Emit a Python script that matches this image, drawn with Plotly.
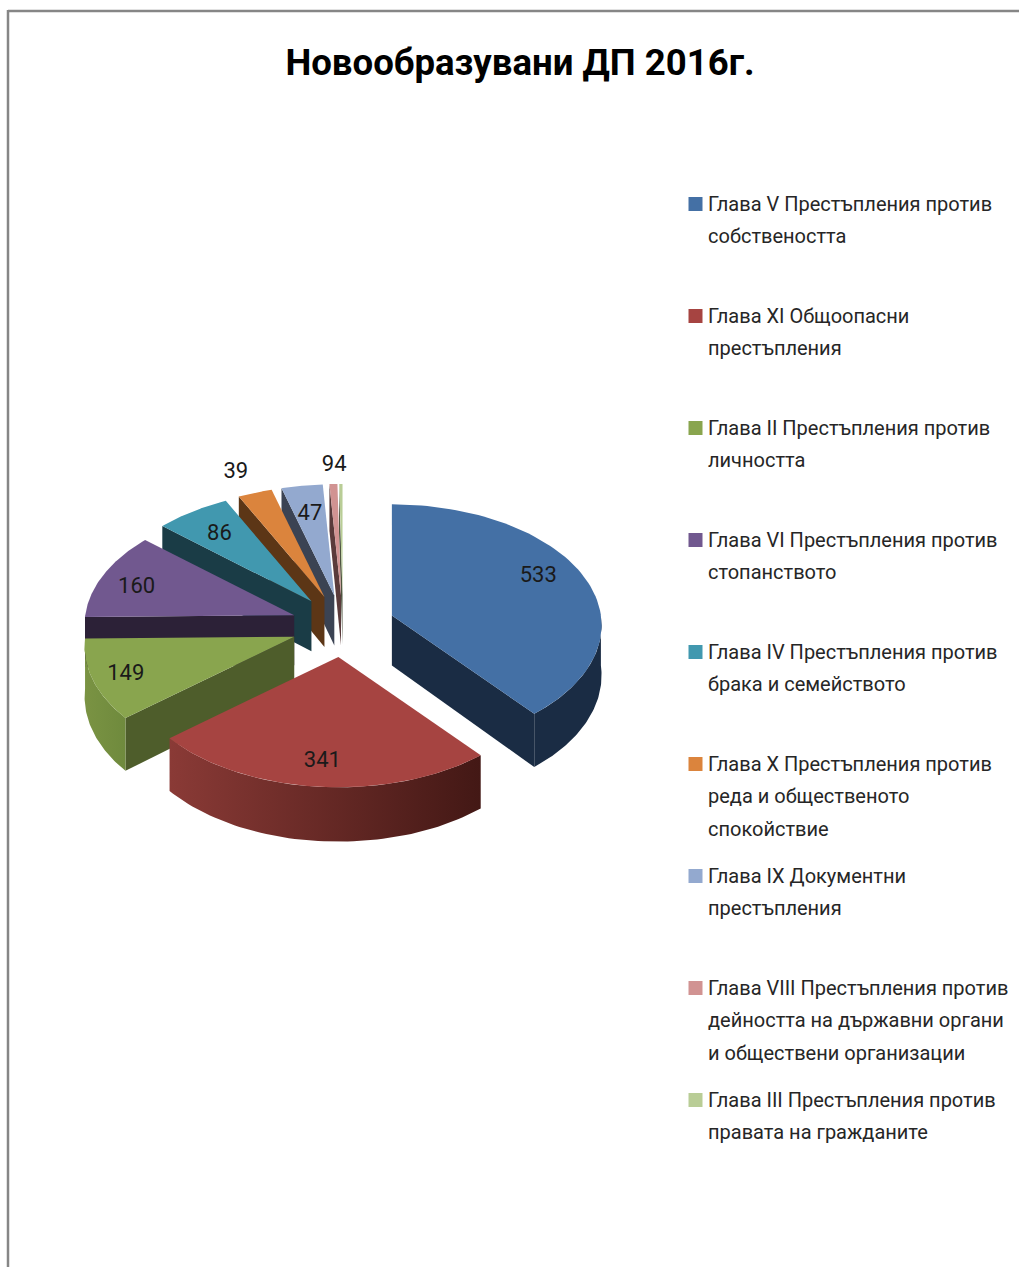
import math
import plotly.graph_objects as go

# ---- data ----
categories = [
    "Глава V Престъпления против<br>собствеността",
    "Глава XI Общоопасни<br>престъпления",
    "Глава II Престъпления против<br>личността",
    "Глава VI Престъпления против<br>стопанството",
    "Глава IV Престъпления против<br>брака и семейството",
    "Глава X Престъпления против<br>реда и общественото<br>спокойствие",
    "Глава IX Документни<br>престъпления",
    "Глава VIII Престъпления против<br>дейността на държавни органи<br>и обществени организации",
    "Глава III Престъпления против<br>правата на гражданите",
]
values = [533, 341, 149, 160, 86, 39, 47, 9, 4]
title = "Новообразувани ДП 2016г."

# ---- styles ----
top_colors = ["#4470A5", "#A64441", "#89A54E", "#71588F", "#4198AF", "#DB843D", "#93A9CF", "#D19392", "#B9CD96"]
wall_colors = ["#1A2C44", "#431815", "#4E5D2B", "#2C2137", "#1A3C46", "#5C3616", "#3B4353", "#5A3B3B", "#4E5540"]
arc_left = ["#1A2C44", "#8A3A36", "#7A9343", "#2C2137", "#1A3C46", "#5C3616", "#3B4353", "#5A3B3B", "#4E5540"]
label_frac = [0.80, 0.80, 0.84, 0.81, 0.76, 1.24, 0.74, 1.20, 1.20]
label_shift = [-6, 0, 0, -2, 0, -1, 0, -1, 0]
LABEL_DY = 2
FONT = "Roboto"

# ---- projection of the tilted, exploded pie onto page pixels ----
CX, CY, EX, EY = 343, 626, 52, 31
RX, RY, P, DEPTH = 209, 120, 0.08, 50


def pt(tip, frac, ang, drop=0):
    a = math.radians(ang)
    X, Y = frac * math.sin(a), frac * math.cos(a)
    s = 1 / (1 + P * Y)
    return tip[0] + RX * X * s, tip[1] - RY * Y * s + drop * s


def poly(fig, pts, color, name=None, grad=None):
    xs = [p[0] for p in pts] + [pts[0][0]]
    ys = [p[1] for p in pts] + [pts[0][1]]
    kw = dict(fillgradient=dict(type="horizontal", colorscale=[[0, grad[0]], [1, grad[1]]])) if grad else dict(fillcolor=color)
    fig.add_trace(go.Scatter(x=xs, y=ys, mode="lines", fill="toself", line=dict(width=0, color=color),
                             hoverinfo="text" if name else "skip", text=name, showlegend=False, **kw))


fig = go.Figure()
total = sum(values)
spans, cum = [], 0
for v in values:
    spans.append((cum / total * 360, (cum + v) / total * 360))
    cum += v
tips = []
for a0, a1 in spans:
    m = math.radians((a0 + a1) / 2)
    tips.append((CX + EX * math.sin(m), CY - EY * math.cos(m)))

order = [8, 7, 6, 5, 4, 3, 0, 2, 1]
for i in order:
    a0, a1 = spans[i]
    tip = tips[i]
    # radial wall facing the viewer
    if a0 >= 180:
        poly(fig, [pt(tip, 0, 0), pt(tip, 1, a0), pt(tip, 1, a0, DEPTH), pt(tip, 0, 0, DEPTH)], wall_colors[i])
    if a1 <= 180:
        poly(fig, [pt(tip, 0, 0), pt(tip, 1, a1), pt(tip, 1, a1, DEPTH), pt(tip, 0, 0, DEPTH)], wall_colors[i])
    # outer wall
    lo, hi = max(a0, 90), min(a1, 270)
    if hi > lo:
        n = 60
        angs = [lo + (hi - lo) * k / n for k in range(n + 1)]
        arc = [pt(tip, 1, a) for a in angs] + [pt(tip, 1, a, DEPTH) for a in reversed(angs)]
        if arc_left[i] != wall_colors[i]:
            poly(fig, arc, wall_colors[i], grad=(arc_left[i], wall_colors[i] if i == 1 else "#6F8A3D"))
        else:
            poly(fig, arc, wall_colors[i])
    # top face
    n = 80
    angs = [a0 + (a1 - a0) * k / n for k in range(n + 1)]
    poly(fig, [pt(tip, 0, 0)] + [pt(tip, 1, a) for a in angs], top_colors[i],
         name=f"{categories[i].replace('<br>', ' ')}: {values[i]}")

# data labels
lx, ly = [], []
for i, (a0, a1) in enumerate(spans):
    x, y = pt(tips[i], label_frac[i], (a0 + a1) / 2 + label_shift[i])
    lx.append(x)
    ly.append(y + LABEL_DY)
fig.add_trace(go.Scatter(x=lx, y=ly, mode="text", text=[str(v) for v in values], textposition="middle center",
                         textfont=dict(family=FONT, size=22, color="#1a1a1a"), hoverinfo="skip", showlegend=False))

# legend: one real text per wrapped line so that the 32 px leading of the original is kept
LEG_X, LEG_Y0, LEG_STEP, LEG_LEAD = 695.5, 204, 112, 32.4
fig.add_trace(go.Scatter(x=[LEG_X] * len(values), y=[LEG_Y0 + LEG_STEP * i for i in range(len(values))],
                         mode="markers", marker=dict(symbol="square", size=14, color=top_colors),
                         hoverinfo="skip", showlegend=False))
annotations = []
for i, c in enumerate(categories):
    for j, line in enumerate(c.split("<br>")):
        annotations.append(dict(x=705.5, y=LEG_Y0 + LEG_STEP * i + LEG_LEAD * j, xref="x", yref="y", text=line,
                                showarrow=False, xanchor="left", yanchor="middle", align="left",
                                font=dict(family=FONT, size=20, color="#262626")))

frame = dict(type="line", xref="x", yref="y", line=dict(color="#868686", width=2.5))
shapes = [dict(frame, x0=8, y0=11, x1=1019, y1=11), dict(frame, x0=8, y0=10, x1=8, y1=1267)]

fig.update_layout(
    width=1019, height=1267, margin=dict(l=0, r=0, t=0, b=0),
    paper_bgcolor="white", plot_bgcolor="white",
    title=dict(text=f"<b>{title}</b>", x=520 / 1019, y=1 - 62 / 1267, xanchor="center", yanchor="middle",
               font=dict(family=FONT, size=36.6, color="black")),
    xaxis=dict(range=[0, 1019], visible=False, fixedrange=True),
    yaxis=dict(range=[1267, 0], visible=False, fixedrange=True),
    annotations=annotations, shapes=shapes, showlegend=False,
)
fig.write_html("out.html", config=dict(displayModeBar=False),
               post_script="document.body.style.margin='0';document.body.style.overflow='hidden';")
